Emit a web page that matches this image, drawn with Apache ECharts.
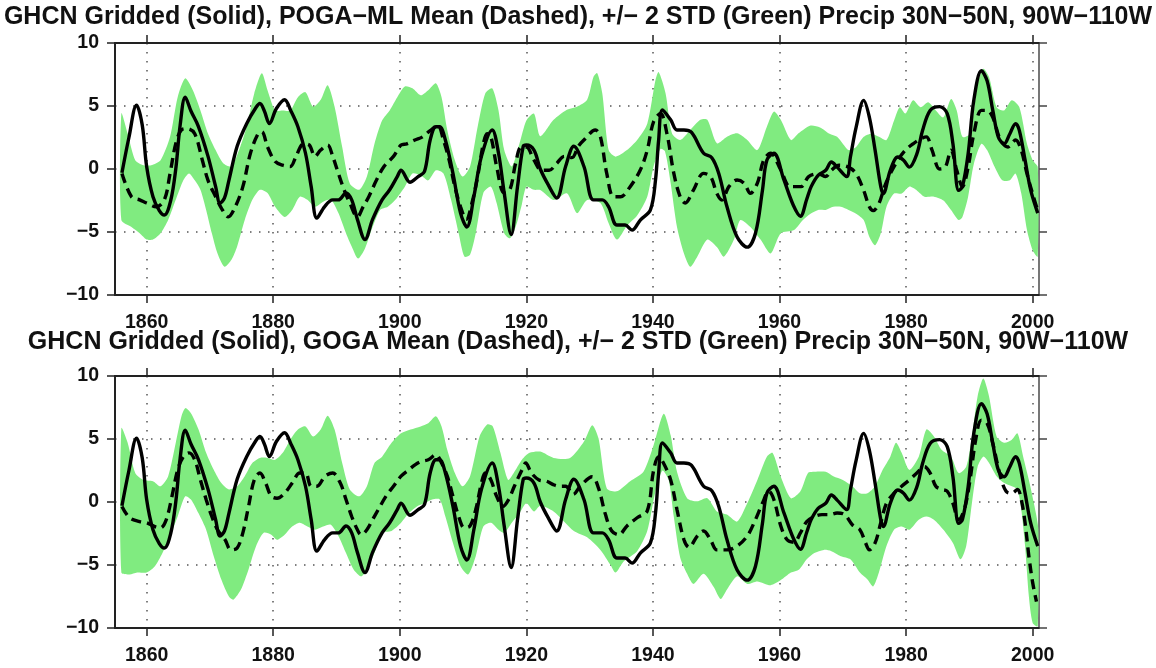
<!DOCTYPE html>
<html>
<head>
<meta charset="utf-8">
<script src="https://cdn.jsdelivr.net/npm/echarts@6/dist/echarts.min.js"></script>
<style>
  html, body { margin: 0; padding: 0; background: #fff; }
  #chart { width: 1156px; height: 668px; }
</style>
</head>
<body>
<div id="chart"></div>
<script>
var titles = [
    'GHCN Gridded (Solid), POGA\u2212ML Mean (Dashed), +/\u2212 2 STD (Green) Precip 30N\u221250N, 90W\u2212110W',
    'GHCN Gridded (Solid), GOGA Mean (Dashed), +/\u2212 2 STD (Green) Precip 30N\u221250N, 90W\u2212110W'
];
var xTicks = [1860, 1880, 1900, 1920, 1940, 1960, 1980, 2000];

// observed (solid, same in both panels)
var ghcn = [[1856.1,-0.3],[1857.2,2.5],[1858.4,5.07],[1859.3,3.5],[1860,0.2],[1861,-2.2],[1862,-3.3],[1862.8,-3.65],[1863.8,-2.5],[1864.6,0],[1865.3,3.5],[1866.1,5.7],[1867,4.6],[1868.2,3.35],[1869.7,1.0],[1870.9,-1.4],[1871.6,-2.7],[1872.3,-2.3],[1873,-0.9],[1874.3,1.8],[1875.8,3.6],[1877.3,4.9],[1877.9,5.2],[1878.6,4.6],[1879.4,3.6],[1880.5,4.8],[1881.8,5.5],[1882.8,4.6],[1883.9,3.35],[1885.1,1.25],[1886,-1.4],[1886.9,-3.9],[1888.1,-3.0],[1889.4,-2.45],[1890.3,-2.45],[1891.5,-1.9],[1892.4,-2.45],[1893.3,-4.0],[1894.5,-5.6],[1895.7,-4.0],[1897.2,-2.45],[1898.4,-1.65],[1899.6,-0.6],[1900.2,-0.1],[1901.6,-1.05],[1902.9,-0.6],[1903.9,-0.2],[1904.8,2.3],[1905.7,3.35],[1906.3,3.35],[1907.2,2.3],[1908.4,-0.35],[1909.6,-3.5],[1910.6,-4.6],[1911.7,-2.2],[1912.9,1.0],[1914.6,3.1],[1915.6,1.25],[1916.5,-1.9],[1917.6,-5.2],[1918.6,-1.4],[1919.5,1.8],[1920,1.9],[1921.2,1.5],[1922.2,0.0],[1923.4,-1.2],[1924.8,-2.3],[1926.2,0.2],[1927.5,1.8],[1929.1,0.2],[1930.6,-2.45],[1932,-2.45],[1933,-3.0],[1934.3,-4.45],[1935.6,-4.45],[1936.7,-4.85],[1938,-4.05],[1939.6,-3.25],[1940.4,-0.9],[1940.9,2.3],[1941.5,4.68],[1942.8,3.9],[1943.8,3.1],[1944.9,3.1],[1946.1,2.9],[1948,1.25],[1949.3,0.9],[1950.4,-0.35],[1951.7,-3.0],[1953.3,-5.4],[1954.9,-6.2],[1956.2,-5.1],[1957.3,-1.7],[1958,0.7],[1959.1,1.25],[1960.7,-0.87],[1962.2,-2.9],[1963.3,-3.75],[1964.3,-2.4],[1965,-1.4],[1966.1,-0.5],[1967.3,-0.1],[1968.2,0.55],[1969.1,0.15],[1970.6,-0.6],[1971.2,0.95],[1972.1,3.3],[1973.3,5.45],[1974.2,4.1],[1975.1,1.5],[1976,-1.4],[1976.4,-1.95],[1977.5,-0.1],[1978.7,0.95],[1979.6,0.7],[1980.5,0.15],[1981.7,1.2],[1982.6,3.05],[1983.8,4.65],[1985.3,4.95],[1986.5,4.4],[1987.4,2.0],[1988.3,-1.7],[1988.9,-1.4],[1989.8,1.2],[1990.7,5.45],[1991.9,7.8],[1992.8,7.0],[1993.7,4.65],[1994.6,2.5],[1995.5,2.0],[1996.4,2.8],[1997.3,3.6],[1997.9,3.05],[1998.8,0.7],[1999.7,-1.7],[2000.8,-3.5]];

// POGA-ML ensemble mean and +/- 2 std
var pogaMean = [[1856.1,-0.35],[1857.6,-2.2],[1858.9,-2.45],[1860,-2.7],[1861.5,-3.0],[1862.8,-2.45],[1863.7,-0.35],[1864.6,2.0],[1865.5,3.1],[1866.4,3.2],[1867.6,2.8],[1868.8,0.7],[1869.7,-0.9],[1870.9,-2.2],[1871.8,-3.1],[1872.9,-3.8],[1874,-3.0],[1875.2,-1.4],[1876.4,1.25],[1877.6,2.8],[1878.2,2.95],[1879.1,1.75],[1880.3,0.6],[1881.5,0.3],[1882.7,0.2],[1883.6,1.0],[1884.8,2.0],[1885.7,1.9],[1886.6,1.0],[1887.5,1.5],[1888.6,1.9],[1889.4,1.0],[1890.3,-0.35],[1891.2,-1.65],[1892.1,-2.7],[1893.3,-3.8],[1894.2,-3.0],[1895.1,-2.2],[1896.3,-0.9],[1897.5,0.2],[1899,1.0],[1900.2,1.9],[1901.1,2.0],[1902.4,2.3],[1903.6,2.55],[1904.8,3.05],[1906,3.45],[1906.9,2.3],[1907.8,0.7],[1908.7,-1.4],[1909.6,-3.0],[1910.5,-4.0],[1911.4,-2.7],[1912.3,-0.6],[1913.2,2.0],[1913.8,2.8],[1914.4,2.55],[1915.3,0.2],[1916.5,-1.9],[1917.4,-1.65],[1918.3,0.45],[1919.2,1.75],[1920,1.75],[1921.2,0.7],[1922.4,-0.1],[1923.6,-0.1],[1924.8,0.45],[1926,1.0],[1927.2,0.9],[1928.2,1.8],[1929.1,2.3],[1930.9,3.1],[1931.7,2.56],[1932.7,-0.35],[1933.8,-2.2],[1934.9,-2.2],[1936.4,-1.4],[1938,-0.08],[1939.1,1.5],[1940.1,3.75],[1941.2,4.4],[1942.2,2.83],[1943.3,-0.35],[1944.3,-2.2],[1945.1,-2.7],[1946.4,-1.67],[1948,-0.35],[1949.1,-0.6],[1950.1,-1.93],[1950.9,-2.46],[1952,-1.4],[1953.3,-0.87],[1954.4,-1.13],[1955.4,-1.93],[1956.5,-1.13],[1957.5,0.7],[1958.6,1.25],[1960.2,-0.08],[1961.7,-1.4],[1963.4,-1.4],[1964.6,-0.6],[1966.1,-0.37],[1967.3,-0.6],[1968.2,-0.1],[1969.4,0.3],[1970.9,0.15],[1972.1,-0.37],[1973.3,-1.7],[1974.2,-3.0],[1974.8,-3.3],[1975.7,-2.75],[1976.6,-1.4],[1977.5,-0.37],[1978.7,0.7],[1979.9,1.5],[1981.1,2.0],[1982.3,2.4],[1983.2,2.55],[1984.1,1.5],[1985.3,0.0],[1986.2,0.15],[1987.1,1.5],[1988,-0.1],[1988.9,-1.4],[1989.8,0.15],[1990.7,2.8],[1991.9,4.65],[1992.8,4.65],[1993.7,4.1],[1994.9,2.3],[1996.1,1.75],[1997.3,2.3],[1998.2,1.5],[1999.1,-0.37],[2000.3,-2.5],[2000.8,-3.3]];
var pogaUpper = [[1856,4.4],[1857,2.8],[1858.2,0.7],[1859.5,0.3],[1860.7,0.3],[1862.2,0.7],[1863.7,2.55],[1864.9,5.7],[1866.1,7.2],[1867.3,6.25],[1868.5,4.65],[1869.7,2.8],[1870.9,1.5],[1872.1,0.45],[1873.4,0.2],[1874.6,1.5],[1875.8,3.35],[1877,6.0],[1878.2,7.6],[1879.1,6.25],[1880.3,4.65],[1881.5,4.65],[1882.7,4.65],[1883.9,5.7],[1885.1,6.1],[1886.3,4.95],[1887.5,5.5],[1888.6,6.65],[1889.7,4.95],[1890.9,1.75],[1892.1,-1.15],[1893.6,-1.65],[1894.8,-0.6],[1896,2.0],[1897.2,3.85],[1898.4,4.65],[1899.6,5.7],[1900.8,6.55],[1902,6.4],[1903.3,5.85],[1904.5,6.25],[1905.7,6.8],[1906.6,5.7],[1907.5,3.1],[1908.7,0.7],[1909.9,-0.6],[1911.1,0.2],[1912.3,3.35],[1913.5,6.0],[1914.6,6.4],[1915.6,4.65],[1916.5,1.5],[1917.7,0.2],[1918.9,2.0],[1920,3.85],[1921.2,4.4],[1922.2,2.6],[1924.3,3.9],[1926.4,4.7],[1928,4.95],[1929.6,5.5],[1930.6,7.3],[1931.2,7.6],[1932,6.0],[1933,1.5],[1934.1,0.98],[1935.9,1.5],[1937.5,2.3],[1939.1,3.6],[1940.4,7.06],[1940.9,7.7],[1942,6.0],[1943,2.83],[1944.3,2.3],[1945.9,3.1],[1947.5,3.9],[1948.6,3.9],[1950.1,2.04],[1951.7,2.56],[1953.3,2.83],[1954.9,2.3],[1956.5,1.5],[1958,3.36],[1959.1,4.55],[1960.2,3.9],[1961.8,2.3],[1963,2.83],[1964.9,3.45],[1966.4,3.3],[1967.9,2.8],[1969.1,2.55],[1970,2.0],[1970.9,1.5],[1972.1,1.75],[1973.3,2.55],[1974.5,2.8],[1975.7,2.55],[1976.9,2.3],[1978.1,3.85],[1979,4.9],[1979.9,4.4],[1981.1,5.45],[1982.3,4.9],[1983.5,5.3],[1984.7,4.65],[1985.9,4.1],[1987.1,5.55],[1988,4.65],[1988.9,2.55],[1990.1,2.8],[1991.3,6.75],[1992.2,7.95],[1993.1,7.3],[1994.3,4.9],[1995.5,4.65],[1996.7,5.45],[1997.9,4.9],[1999.1,2.0],[2000,0.7],[2000.8,0.15]];
var pogaLower = [[1856,-4.05],[1857.6,-4.6],[1858.9,-5.1],[1860,-5.6],[1861,-5.6],[1862.2,-5.1],[1863.4,-4.05],[1864.6,-2.45],[1865.8,-0.9],[1866.7,-0.35],[1867.6,-0.9],[1868.5,-1.65],[1869.4,-3.25],[1870.3,-5.1],[1871.2,-6.7],[1872.3,-7.75],[1873.4,-7.2],[1874.3,-6.15],[1875.5,-4.05],[1876.7,-2.45],[1877.9,-1.65],[1879.1,-1.9],[1880.3,-3.0],[1881.8,-3.8],[1883,-3.25],[1884.2,-2.2],[1885.4,-2.45],[1886.6,-3.0],[1887.9,-2.6],[1889.1,-2.45],[1890.3,-3.5],[1891.5,-5.1],[1892.4,-6.15],[1893.4,-7.1],[1894.5,-6.3],[1895.7,-4.6],[1896.9,-3.25],[1898.1,-3.0],[1899.3,-2.45],[1900.8,-1.4],[1902,-0.35],[1903.3,-0.5],[1904.5,-0.9],[1905.7,-0.1],[1906.9,-0.35],[1908.1,-2.45],[1909.3,-5.1],[1910.2,-6.95],[1911.1,-6.8],[1912,-5.1],[1913.2,-1.9],[1914.4,-1.4],[1915.3,-2.7],[1916.5,-5.1],[1917.4,-5.5],[1918.3,-4.6],[1919.2,-3.0],[1920,-1.4],[1921.2,-1.65],[1922.2,-1.67],[1924.3,-2.46],[1926.4,-1.93],[1928,-3.5],[1929.6,-2.46],[1931.7,-2.7],[1933,-4.3],[1934.3,-5.6],[1935.9,-4.5],[1937.5,-3.7],[1939.1,-2.2],[1940.1,0.2],[1941.2,1.6],[1941.9,1.4],[1942.8,-1.13],[1943.8,-4.6],[1944.9,-6.7],[1945.9,-7.75],[1947,-6.96],[1948.6,-5.6],[1950.1,-6.2],[1951.2,-6.96],[1952.8,-5.6],[1953.8,-4.05],[1955.4,-4.6],[1957,-5.6],[1958.6,-6.7],[1960.2,-5.1],[1962.3,-4.84],[1963.7,-4.05],[1964.9,-3.55],[1966.1,-3.25],[1967.3,-3.25],[1968.5,-3.0],[1969.7,-3.0],[1970.9,-3.25],[1972.1,-3.55],[1973.3,-4.05],[1974.2,-5.4],[1975.1,-6.05],[1976,-5.1],[1976.9,-3.0],[1978.1,-1.95],[1979.3,-1.95],[1980.5,-1.4],[1981.7,-1.7],[1982.9,-2.2],[1984.4,-2.2],[1985.9,-2.5],[1987.1,-3.25],[1988.3,-4.05],[1988.9,-3.8],[1989.8,-2.2],[1990.7,0.4],[1991.9,2.0],[1992.8,1.5],[1994,0.15],[1995.2,-0.9],[1996.4,-0.9],[1997.3,-0.37],[1998.2,-1.95],[1999.1,-4.85],[2000,-6.45],[2000.8,-6.95]];

// GOGA ensemble mean and +/- 2 std
var gogaMean = [[1856.1,-0.35],[1857.3,-1.25],[1858.9,-1.55],[1860,-1.65],[1861.3,-1.95],[1862.2,-2.05],[1863.1,-1.4],[1864,0.45],[1864.9,2.55],[1865.8,3.6],[1866.7,3.9],[1867.6,3.35],[1868.5,1.75],[1869.4,0.2],[1870.3,-1.15],[1871.2,-2.2],[1872.4,-3.0],[1873.3,-3.8],[1874.3,-3.65],[1875.2,-2.45],[1876.1,-0.35],[1877,1.75],[1877.9,2.3],[1878.8,1.5],[1879.7,0.45],[1880.6,0.3],[1881.8,0.7],[1883,1.5],[1884.2,2.3],[1885.1,2.3],[1886,1.25],[1886.9,1.25],[1888.2,2.05],[1889.4,2.3],[1890.6,1.5],[1891.5,0.2],[1892.4,-1.15],[1893.3,-2.2],[1893.9,-2.6],[1894.8,-2.2],[1895.7,-1.4],[1896.6,-0.6],[1897.8,0.45],[1899,1.25],[1900.2,2.05],[1901.4,2.55],[1902.4,2.95],[1903.3,3.2],[1904.5,3.35],[1905.7,3.75],[1906.6,3.1],[1907.5,2.05],[1908.4,0.45],[1909.3,-1.15],[1910.2,-2.05],[1911.1,-1.9],[1912,-0.6],[1912.9,1.5],[1913.5,2.3],[1914.4,1.75],[1915.3,0.45],[1916.3,-0.35],[1917.2,0.2],[1918.1,1.25],[1919.3,2.55],[1919.9,3.1],[1920.8,2.3],[1922,1.75],[1923.2,1.65],[1924.4,1.35],[1925.3,1.25],[1926.2,1.25],[1927.4,0.6],[1928.5,1.25],[1930.4,2.0],[1931.4,1.1],[1932.5,-1.0],[1933.5,-2.3],[1934.6,-2.6],[1935.9,-1.9],[1937.5,-1.25],[1939.1,-0.7],[1940.1,2.5],[1940.9,3.6],[1941.7,3.05],[1942.8,1.75],[1943.8,-0.6],[1944.9,-3.0],[1945.7,-3.6],[1947,-2.7],[1948,-2.3],[1949.1,-3.0],[1950.1,-3.8],[1951.7,-3.8],[1953.3,-3.5],[1954.9,-2.7],[1956.2,-1.4],[1957.3,-0.1],[1958.3,0.85],[1959.1,0.2],[1960.2,-1.9],[1961.2,-3.0],[1962.3,-3.2],[1963.3,-2.45],[1964.3,-1.55],[1965.5,-1.15],[1966.7,-1.0],[1967.9,-1.0],[1969.1,-0.87],[1970.3,-1.0],[1971.5,-1.8],[1972.7,-2.2],[1973.6,-3.25],[1974.2,-3.8],[1975.1,-3.25],[1976,-1.65],[1976.9,-0.1],[1978.1,0.7],[1979.3,1.25],[1980.5,1.75],[1981.7,2.3],[1982.9,2.8],[1983.8,2.3],[1984.7,1.25],[1985.6,1.0],[1986.5,0.85],[1987.4,-0.1],[1988.3,-1.4],[1989.2,-0.6],[1990.1,1.75],[1991,4.95],[1991.9,6.5],[1992.8,6.25],[1993.7,4.65],[1994.9,2.05],[1995.8,0.85],[1996.7,0.7],[1997.6,1.0],[1998.2,0.2],[1998.8,-1.65],[1999.4,-4.3],[2000,-6.4],[2000.6,-7.9]];
var gogaUpper = [[1856,5.85],[1857,4.7],[1858.2,2.3],[1859.5,1.75],[1861,1.65],[1862.2,1.25],[1863.4,2.05],[1864.6,4.7],[1865.5,6.8],[1866.1,7.45],[1867,7.05],[1868.2,5.75],[1869.4,3.9],[1870.6,2.55],[1871.8,1.5],[1873,1.0],[1874.3,1.25],[1875.5,2.05],[1876.7,3.1],[1877.9,3.5],[1879.1,3.5],[1880.3,3.35],[1881.5,3.9],[1882.7,4.95],[1883.9,5.75],[1885.1,6.0],[1886.3,5.2],[1887.5,5.75],[1888.6,6.85],[1889.7,5.75],[1890.9,3.1],[1892.1,1.0],[1893.6,0.45],[1894.8,1.25],[1896,3.1],[1897.2,3.6],[1898.7,4.7],[1900.2,5.45],[1901.7,5.75],[1903.3,6.0],[1904.5,6.25],[1905.7,6.8],[1906.6,6.0],[1907.5,4.15],[1908.7,2.3],[1909.9,1.25],[1911.1,2.05],[1912.6,5.2],[1913.8,6.15],[1914.7,6.0],[1915.9,3.9],[1917.1,1.75],[1918,2.3],[1919.3,3.35],[1920.5,3.9],[1922.2,4.0],[1924.3,3.5],[1926.9,3.5],[1929.1,4.8],[1930.4,6.1],[1931.4,5.05],[1932.7,1.1],[1934.3,0.85],[1936.4,1.65],[1938.5,2.4],[1940.1,4.5],[1941.7,7.0],[1942.8,5.3],[1943.8,2.4],[1945.4,0.3],[1947,0.05],[1948.6,0.3],[1950.1,-0.75],[1951.7,-1.0],[1953.3,-1.55],[1954.9,-0.1],[1956.5,1.75],[1958,3.6],[1958.9,3.9],[1960.2,2.0],[1961.8,0.3],[1963.3,0.85],[1964.5,2.3],[1965.5,2.4],[1967.3,2.4],[1968.5,2.05],[1970,1.75],[1971.5,1.25],[1972.7,0.7],[1973.9,0.7],[1975.1,1.25],[1976.3,2.55],[1977.5,3.6],[1978.4,4.7],[1979.3,3.9],[1980.5,2.55],[1982,3.6],[1983.2,5.75],[1984.4,5.2],[1985.6,4.15],[1987.1,3.6],[1988.3,2.3],[1989.5,2.8],[1990.4,5.2],[1991.3,8.4],[1992.2,9.8],[1993.1,8.4],[1994.3,5.2],[1995.5,4.7],[1996.7,4.95],[1997.6,5.45],[1998.5,3.6],[1999.4,1.75],[2000.3,-0.35],[2000.9,-2.2]];
var gogaLower = [[1856,-5.6],[1857.3,-5.75],[1858.5,-5.6],[1860,-5.6],[1861.3,-5.1],[1862.5,-4.05],[1863.7,-2.7],[1864.9,-1.15],[1866.1,0.45],[1867,0.2],[1868.2,-0.9],[1869.4,-2.2],[1870.6,-4.3],[1871.8,-6.15],[1873,-7.5],[1873.7,-7.75],[1874.9,-6.95],[1876.1,-5.35],[1877.3,-3.5],[1878.5,-2.45],[1879.7,-2.6],[1880.6,-3.0],[1881.8,-2.6],[1883,-1.95],[1884.2,-1.65],[1885.4,-1.95],[1886.6,-2.2],[1887.9,-1.95],[1889.1,-1.8],[1890.3,-2.7],[1891.5,-4.05],[1892.7,-5.35],[1893.9,-5.9],[1894.8,-5.35],[1896,-4.05],[1897.2,-2.45],[1898.7,-2.3],[1900.2,-1.65],[1901.4,-0.9],[1902.7,-0.35],[1903.9,-0.1],[1905.1,0.2],[1906.3,0.2],[1907.2,-1.15],[1908.4,-3.25],[1909.6,-5.1],[1910.8,-5.75],[1912,-4.3],[1913.2,-1.95],[1914.4,-1.65],[1915.6,-2.2],[1916.5,-2.45],[1917.7,-1.65],[1918.9,-0.9],[1920,-0.1],[1921.2,-0.75],[1922.2,-0.3],[1924.3,-0.75],[1927.5,-2.3],[1929.6,-2.8],[1931.7,-3.8],[1933.3,-5.0],[1934.1,-5.6],[1935.4,-4.7],[1937.5,-3.9],[1939.1,-2.3],[1940.4,0.85],[1941.5,2.5],[1942.5,1.7],[1943.3,-1.2],[1944.3,-4.4],[1945.4,-5.7],[1946.4,-6.5],[1948,-5.7],[1949.6,-6.75],[1950.7,-7.7],[1951.7,-6.95],[1953.3,-5.9],[1954.9,-6.5],[1956.5,-6.3],[1958.6,-6.6],[1960.2,-6.2],[1961.8,-5.6],[1963.1,-5.35],[1964.3,-4.55],[1965.5,-4.05],[1967,-3.8],[1968.2,-3.9],[1969.7,-4.3],[1971.2,-4.55],[1972.7,-5.6],[1973.9,-6.15],[1974.8,-6.7],[1975.7,-5.6],[1976.9,-3.5],[1978.1,-2.2],[1979.3,-1.95],[1980.5,-2.2],[1982,-1.4],[1983.2,-1.15],[1984.4,-1.4],[1985.9,-2.2],[1987.4,-3.25],[1988.6,-4.55],[1989.5,-3.5],[1990.4,-0.1],[1991.3,2.8],[1992.2,3.6],[1993.1,3.1],[1994.3,2.05],[1995.5,1.5],[1996.7,1.25],[1997.6,1.0],[1998.2,-0.6],[1998.8,-3.5],[1999.4,-7.5],[2000,-9.6],[2000.8,-9.85]];

var myChart = echarts.init(document.getElementById('chart'));

var FONT = '"Liberation Sans", Arial, Helvetica, sans-serif';
var DOTS = {color: '#555', width: 1.5, type: [1.5, 7.5]};
var gridTops = [43, 376];

function band(upper, lower, idx) {
    return {
        type: 'custom',
        xAxisIndex: idx * 2,
        yAxisIndex: idx * 2,
        silent: true,
        z: 1,
        data: upper,
        encode: {x: 0, y: 1},
        renderItem: function (params, api) {
            if (params.dataIndex !== 0) return null;
            var pts = [];
            for (var i = 0; i < upper.length; i++) pts.push(api.coord(upper[i]));
            for (var j = lower.length - 1; j >= 0; j--) pts.push(api.coord(lower[j]));
            return {
                type: 'polygon',
                shape: {points: pts, smooth: 0.25},
                style: {fill: '#80eb80', stroke: null}
            };
        }
    };
}

function line(data, idx, dashed) {
    return {
        type: 'line',
        xAxisIndex: idx * 2,
        yAxisIndex: idx * 2,
        data: data,
        smooth: 0.35,
        showSymbol: false,
        silent: true,
        z: dashed ? 3 : 4,
        lineStyle: {color: '#000', width: 3.4, type: dashed ? [10, 6] : 'solid'}
    };
}

var grids = [], xAxes = [], yAxes = [];
gridTops.forEach(function (top, g) {
    grids.push({left: 115, right: 117, top: top, height: 252});
    // bottom axis with labels
    xAxes.push({
        type: 'value', gridIndex: g, min: 1855, max: 2001, splitNumber: 7, position: 'bottom',
        axisLine: {onZero: false, lineStyle: {color: '#222', width: 2}},
        axisTick: {customValues: xTicks, length: 8, lineStyle: {color: '#222', width: 1.5}},
        axisLabel: {customValues: xTicks, margin: 18, fontSize: 19.5, fontWeight: 'bold', color: '#111',
                    fontFamily: FONT, formatter: function (v) { return String(v); }},
        splitLine: {show: true, lineStyle: DOTS}
    });
    // top frame with outward ticks
    xAxes.push({
        type: 'value', gridIndex: g, min: 1855, max: 2001, splitNumber: 7, position: 'top',
        axisLine: {onZero: false, lineStyle: {color: '#222', width: 2}},
        axisTick: {customValues: xTicks, length: 8, lineStyle: {color: '#222', width: 1.5}},
        axisLabel: {show: false},
        splitLine: {show: false}
    });
    yAxes.push({
        type: 'value', gridIndex: g, min: -10, max: 10, interval: 5, position: 'left',
        axisLine: {onZero: false, show: true, lineStyle: {color: '#222', width: 2}},
        axisTick: {show: true, length: 8, lineStyle: {color: '#222', width: 1.5}},
        axisLabel: {margin: 16, fontSize: 19.5, fontWeight: 'bold', color: '#111', fontFamily: FONT,
                    formatter: function (v) { return String(v).replace('-', '\u2212'); }},
        splitLine: {show: true, lineStyle: DOTS}
    });
    yAxes.push({
        type: 'value', gridIndex: g, min: -10, max: 10, interval: 5, position: 'right',
        axisLine: {onZero: false, show: true, lineStyle: {color: '#777', width: 2}},
        axisTick: {show: true, length: 8, lineStyle: {color: '#444', width: 1.5}},
        axisLabel: {show: false},
        splitLine: {show: false}
    });
});

var option = {
    animation: false,
    backgroundColor: '#fff',
    title: [
        {text: titles[0], left: 'center', top: 0,
         textStyle: {fontSize: 25, fontWeight: 'bold', color: '#111', fontFamily: FONT}},
        {text: titles[1], left: 'center', top: 325,
         textStyle: {fontSize: 25, fontWeight: 'bold', color: '#111', fontFamily: FONT}}
    ],
    grid: grids,
    xAxis: xAxes,
    yAxis: yAxes,
    series: [
        band(pogaUpper, pogaLower, 0),
        line(pogaMean, 0, true),
        line(ghcn, 0, false),
        band(gogaUpper, gogaLower, 1),
        line(gogaMean, 1, true),
        line(ghcn, 1, false)
    ]
};

myChart.setOption(option);
</script>
</body>
</html>
